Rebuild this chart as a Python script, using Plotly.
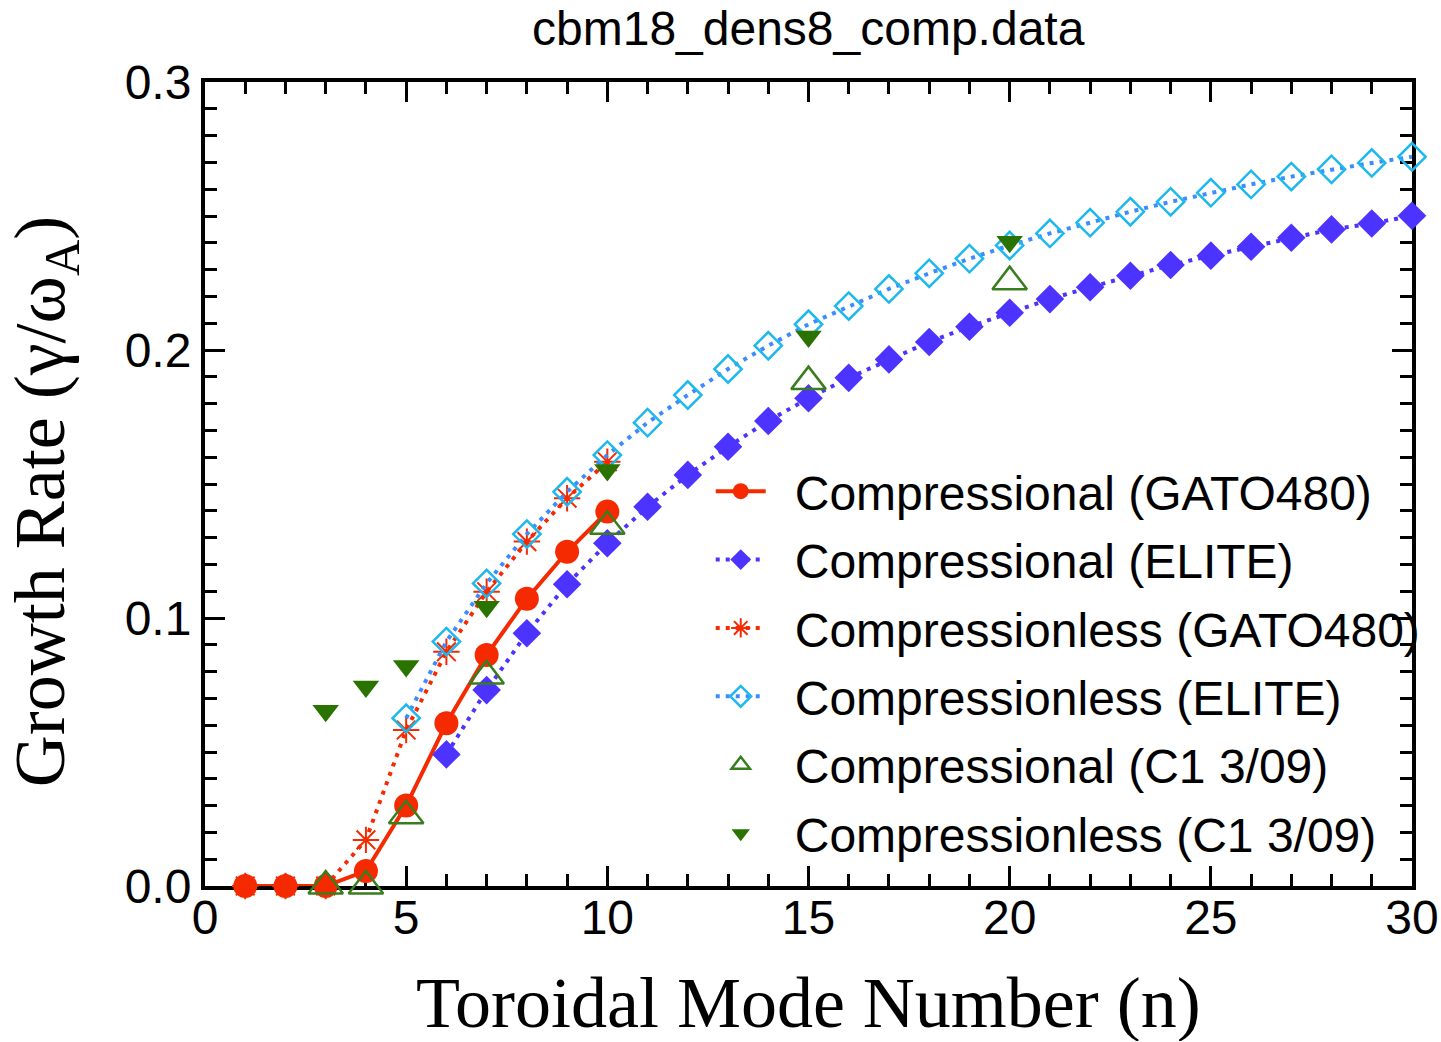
import plotly.graph_objects as go

# ---------------- data ----------------
n_gato = [1, 2, 3, 4, 5, 6, 7, 8, 9, 10]
comp_gato = [0.0, 0.0, 0.0, 0.0056, 0.030, 0.0607, 0.0862, 0.1072, 0.1247, 0.1397]

n_elite_comp = list(range(6, 31))
comp_elite = [0.0491, 0.0731, 0.0943, 0.1126, 0.1279, 0.1415, 0.1534, 0.1639, 0.1735,
              0.1820, 0.1896, 0.1965, 0.2030, 0.2087, 0.2139, 0.2190, 0.2234, 0.2277,
              0.2317, 0.2352, 0.2385, 0.2419, 0.2450, 0.2472, 0.2501]

n_gato_less = [1, 2, 3, 4, 5, 6, 7, 8, 9, 10]
compless_gato = [0.0, 0.0, 0.0, 0.0172, 0.0582, 0.0874, 0.1098, 0.1285, 0.1447, 0.1583]

n_elite_less = list(range(5, 31))
compless_elite = [0.0626, 0.0912, 0.1129, 0.1313, 0.1471, 0.1608, 0.1729, 0.1832, 0.1929,
                  0.2016, 0.2096, 0.2164, 0.2228, 0.2286, 0.2341, 0.2390, 0.2435, 0.2475,
                  0.2516, 0.2553, 0.2587, 0.2618, 0.2647, 0.2674, 0.2698, 0.2721]

n_c1 = [3, 4, 5, 7, 10, 15, 20]
comp_c1 = [0.0, 0.0, 0.0262, 0.0784, 0.1342, 0.1882, 0.2255]
compless_c1 = [0.0654, 0.0744, 0.0821, 0.1042, 0.1552, 0.2050, 0.2404]

names = ["Compressional (GATO480)", "Compressional (ELITE)", "Compressionless (GATO480)",
         "Compressionless (ELITE)", "Compressional (C1 3/09)", "Compressionless (C1 3/09)"]

x_tickvals = [0, 5, 10, 15, 20, 25, 30]
x_ticktext = ["0", "5", "10", "15", "20", "25", "30"]
y_tickvals = [0, 0.1, 0.2, 0.3]
y_ticktext = ["0.0", "0.1", "0.2", "0.3"]

GAP = "\u2002"  # en space: separates legend symbol from label like the reference

RED = "#F52A00"
BLUE = "#4D33FF"
CYAN = "#1DB8EE"
CYANLINE = "#3C8CFF"
GREEN = "#2A7300"
GREEN_O = "#3A7D1E"

fig = go.Figure()
fig.add_trace(go.Scatter(x=n_gato, y=comp_gato, name=GAP + names[0], mode="lines+markers",
                         legendgroup="g0",
                         line=dict(color=RED, width=4),
                         marker=dict(symbol="circle", size=24, color=RED),
                         cliponaxis=False))
fig.add_trace(go.Scatter(x=n_elite_comp, y=comp_elite, name=GAP + names[1], mode="lines+markers",
                         legendgroup="g1",
                         line=dict(color=BLUE, width=4, dash="4px,6px"),
                         marker=dict(symbol="diamond", size=22, color=BLUE),
                         cliponaxis=False))
fig.add_trace(go.Scatter(x=n_gato_less, y=compless_gato, name=GAP + names[2], mode="lines+markers",
                         legendgroup="g2",
                         line=dict(color=RED, width=4, dash="4px,6px"),
                         marker=dict(symbol="asterisk-open", size=22, color=RED,
                                     line=dict(color=RED, width=2)),
                         cliponaxis=False))
fig.add_trace(go.Scatter(x=n_elite_less, y=compless_elite, name=GAP + names[3], mode="lines+markers",
                         legendgroup="g3",
                         line=dict(color=CYANLINE, width=4, dash="4px,6px"),
                         marker=dict(symbol="diamond-open", size=21, color=CYAN,
                                     line=dict(color=CYAN, width=2.5)),
                         cliponaxis=False))
fig.add_trace(go.Scatter(x=n_c1, y=comp_c1, name=GAP + names[4], mode="markers",
                         legendgroup="g4",
                         marker=dict(symbol="triangle-up-open", size=30, color=GREEN_O,
                                     line=dict(color=GREEN_O, width=2.5)),
                         cliponaxis=False))
fig.add_trace(go.Scatter(x=n_c1, y=compless_c1, name=GAP + names[5], mode="markers",
                         legendgroup="g5",
                         marker=dict(symbol="triangle-down", size=23, color=GREEN),
                         cliponaxis=False))

axis_common = dict(
    showline=True, linecolor="black", linewidth=4, mirror="ticks",
    ticks="inside", ticklen=20, tickwidth=3, tickcolor="black",
    showgrid=False, zeroline=False, layer="below traces",
    ticklabeloverflow="allow", automargin=False,
    tickfont=dict(family="Liberation Sans, Arial, sans-serif", size=48, color="black"),
)

fig.update_xaxes(range=[0, 30], tickvals=x_tickvals, ticktext=x_ticktext,
                 ticklabelstandoff=-14,
                 minor=dict(dtick=1, ticks="inside", ticklen=12, tickwidth=3, tickcolor="black"),
                 **axis_common)
fig.update_yaxes(range=[0, 0.3], tickvals=y_tickvals, ticktext=y_ticktext,
                 minor=dict(dtick=0.01, ticks="inside", ticklen=12, tickwidth=3, tickcolor="black"),
                 **axis_common)

fig.update_layout(
    width=1441, height=1042,
    margin=dict(l=205, r=29, t=82, b=156, autoexpand=False),
    paper_bgcolor="white", plot_bgcolor="white",
    showlegend=True,
    legend=dict(x=0.419, y=0.538, xanchor="left", yanchor="top",
                bgcolor="rgba(0,0,0,0)", borderwidth=0,
                font=dict(family="Liberation Sans, Arial, sans-serif", size=48, color="black"),
                itemwidth=50, tracegroupgap=3),
    annotations=[
        dict(text="cbm18_dens8_comp.data", xref="paper", yref="paper", x=0.5, y=1.066,
             xanchor="center", yanchor="middle", showarrow=False,
             font=dict(family="Liberation Sans, Arial, sans-serif", size=48, color="black")),
        dict(text="Toroidal Mode Number (n)", xref="paper", yref="paper", x=0.5, y=-0.146,
             xanchor="center", yanchor="middle", showarrow=False, height=76,
             font=dict(family="Liberation Serif, Times New Roman, serif", size=72, color="black")),
        dict(text="Growth Rate (γ/ω<sub>A</sub>)", xref="paper", yref="paper", x=-0.133, y=0.478,
             xanchor="center", yanchor="middle", showarrow=False, textangle=-90, height=76,
             font=dict(family="Liberation Serif, Times New Roman, serif", size=72, color="black")),
    ],
)

fig.write_html("out.html")
